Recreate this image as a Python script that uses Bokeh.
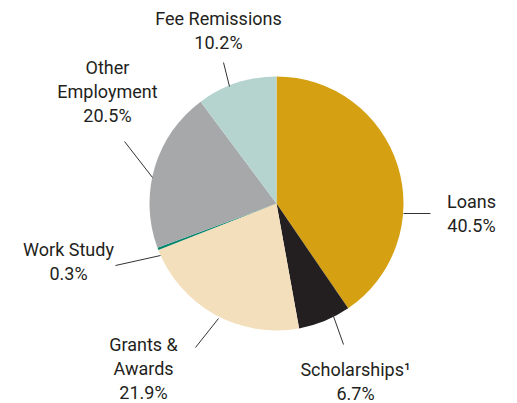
import numpy as np
from bokeh.plotting import figure
from bokeh.models import ColumnDataSource, Range1d
from bokeh.core.properties import value
from bokeh.embed import file_html
from bokeh.resources import INLINE

# ---- data ----
categories = ["Loans", "Scholarships", "Grants & Awards", "Work Study", "Other Employment", "Fee Remissions"]
shares = [40.5, 6.7, 21.9, 0.3, 20.5, 10.2]
label_texts = ["Loans\n40.5%", "Scholarships\u00b9\n6.7%", "Grants &\nAwards\n21.9%",
               "Work Study\n0.3%", "Other\nEmployment\n20.5%", "Fee Remissions\n10.2%"]
colors = ["#D5A012", "#231F20", "#F3DFBC", "#00866E", "#A7A8AA", "#B5D4CF"]

W, H = 517, 403
def px(x): return x
def py(y): return H - y

p = figure(width=W, height=H, output_backend="svg", toolbar_location=None,
           x_range=Range1d(0, W), y_range=Range1d(0, H), min_border=0,
           outline_line_color=None)
p.axis.visible = False
p.grid.visible = False
p.background_fill_color = "white"
p.border_fill_color = "white"

# wedges, clockwise from 12 o'clock
vals = np.array(shares, dtype=float)
frac = vals / vals.sum()
cum = np.concatenate([[0], np.cumsum(frac)])
start = np.pi / 2 - cum[:-1] * 2 * np.pi
end = np.pi / 2 - cum[1:] * 2 * np.pi
src = ColumnDataSource(dict(start=start, end=end, color=colors, cat=categories))
cx, cy, r = px(276), py(203), 127
p.wedge(x=cx, y=cy, radius=r, start_angle="start", end_angle="end", direction="clock",
        fill_color="color", line_color=None, source=src)

# leader lines (page coords)
lx0 = [403, 332, 195, 115, 124, 223]
ly0 = [213, 313, 347, 265, 141, 62]
lx1 = [430, 343, 218, 160, 152, 229]
ly1 = [213, 344, 318, 255, 177, 86]
p.segment(x0=[px(v) for v in lx0], y0=[py(v) for v in ly0],
          x1=[px(v) for v in lx1], y1=[py(v) for v in ly1],
          line_color="#333333", line_width=1)

# labels (page coords of first line center)
tx = [471, 355, 143, 68, 107, 218]
ty = [201, 369, 344, 249, 67, 18]
line_h = 24
xs, ys, ts = [], [], []
for t, x, y in zip(label_texts, tx, ty):
    for i, line in enumerate(t.split("\n")):
        xs.append(px(x)); ys.append(py(y + i * line_h)); ts.append(line)
p.text(x=xs, y=ys, text=ts, text_align="center", text_baseline="middle",
       text_font=value("Roboto"), text_font_size="18px",
       text_color="#231F20")

open("out.html", "w").write(file_html(p, INLINE))
